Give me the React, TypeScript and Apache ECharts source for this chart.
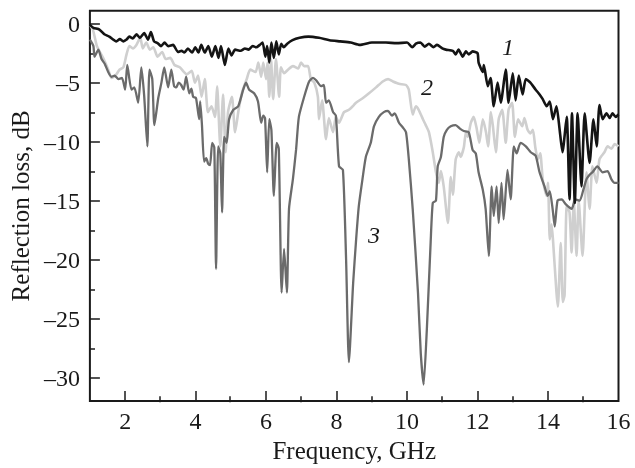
import React, { useEffect, useRef } from "react";
import * as echarts from "echarts";

// Sample 1 (black): [frequency GHz, reflection loss dB]
const curve1: [number, number][] = [
  [1.0, -0.1], [1.1, -0.35], [1.27, -0.5], [1.41, -0.9], [1.55, -1.1], [1.75, -1.5], [1.85, -1.3], [1.95, -1.5],
  [2.04, -1.35], [2.12, -1.1], [2.22, -1.25], [2.32, -0.9], [2.42, -1.2], [2.54, -0.8], [2.65, -1.35], [2.73, -0.7],
  [2.82, -1.5], [2.92, -1.65], [3.02, -1.9], [3.12, -1.6], [3.22, -1.9], [3.36, -1.8], [3.5, -2.4], [3.6, -2.3],
  [3.68, -2.45], [3.78, -2.1], [3.9, -2.45], [3.99, -2.0], [4.08, -2.45], [4.16, -1.8], [4.26, -2.45], [4.36, -1.9],
  [4.46, -2.8], [4.56, -1.9], [4.65, -2.9], [4.72, -1.9], [4.83, -3.5], [4.93, -2.1], [5.02, -2.7], [5.12, -2.2],
  [5.28, -2.3], [5.4, -2.1], [5.5, -2.2], [5.62, -1.9], [5.72, -2.0], [5.82, -1.8], [5.9, -1.6], [5.98, -2.8],
  [6.03, -1.9], [6.09, -3.3], [6.15, -1.6], [6.22, -2.9], [6.29, -1.5], [6.36, -2.6], [6.43, -1.7], [6.5, -2.0],
  [6.6, -1.7], [6.75, -1.4], [6.95, -1.2], [7.2, -1.1], [7.5, -1.2], [7.8, -1.4], [8.1, -1.5], [8.4, -1.6],
  [8.66, -1.8], [9.0, -1.6], [9.4, -1.6], [9.7, -1.65], [10.0, -1.6], [10.15, -2.0], [10.25, -1.7], [10.38, -1.6],
  [10.5, -1.95], [10.62, -1.7], [10.75, -2.0], [10.85, -1.8], [11.0, -2.1], [11.1, -2.2], [11.3, -2.3], [11.38, -2.6],
  [11.46, -2.2], [11.58, -2.8], [11.67, -2.35], [11.75, -2.6], [11.86, -2.35], [12.0, -2.5], [12.03, -3.3], [12.15, -4.1],
  [12.18, -3.5], [12.29, -5.3], [12.37, -4.6], [12.46, -7.0], [12.57, -5.0], [12.66, -6.7], [12.8, -3.9], [12.88, -6.7],
  [13.0, -4.2], [13.08, -6.5], [13.17, -4.4], [13.28, -6.0], [13.37, -4.7], [13.5, -5.0], [13.65, -5.6], [13.76, -6.0],
  [13.85, -6.4], [13.96, -7.0], [14.05, -6.6], [14.14, -8.1], [14.24, -7.0], [14.33, -9.0], [14.41, -10.9], [14.53, -7.9],
  [14.61, -14.9], [14.68, -7.6], [14.76, -15.2], [14.84, -7.6], [14.95, -13.8], [15.04, -7.6], [15.18, -11.8], [15.29, -8.1],
  [15.38, -10.4], [15.46, -6.9], [15.55, -8.1], [15.66, -7.6], [15.75, -8.0], [15.83, -7.6], [15.92, -7.9], [16.0, -7.7],
];

// Sample 2 (light grey)
const curve2: [number, number][] = [
  [1.0, -0.3], [1.05, -0.25], [1.2, -1.9], [1.39, -3.0], [1.52, -3.9], [1.61, -4.6], [1.75, -4.3], [1.84, -3.9],
  [1.95, -3.7], [2.04, -2.6], [2.12, -1.9], [2.22, -2.1], [2.32, -1.8], [2.43, -1.2], [2.5, -2.1], [2.6, -1.6],
  [2.7, -2.2], [2.8, -2.0], [2.92, -2.8], [3.05, -2.4], [3.15, -3.0], [3.28, -2.9], [3.4, -3.5], [3.55, -3.7],
  [3.75, -4.3], [3.89, -4.0], [3.98, -5.0], [4.07, -4.4], [4.17, -6.2], [4.26, -4.7], [4.35, -7.5], [4.45, -7.0],
  [4.55, -7.9], [4.61, -5.3], [4.7, -10.4], [4.78, -6.0], [4.85, -10.9], [4.92, -7.5], [5.03, -6.2], [5.12, -9.2],
  [5.22, -7.3], [5.32, -5.8], [5.45, -4.7], [5.55, -3.9], [5.7, -4.1], [5.78, -3.3], [5.86, -4.5], [5.92, -3.3],
  [6.0, -4.7], [6.04, -3.3], [6.09, -6.2], [6.14, -3.0], [6.2, -6.4], [6.28, -3.0], [6.37, -6.2], [6.42, -3.7],
  [6.51, -4.2], [6.62, -3.9], [6.76, -3.6], [6.91, -3.8], [6.99, -3.3], [7.08, -3.6], [7.19, -3.6], [7.27, -4.7],
  [7.37, -5.0], [7.47, -6.2], [7.5, -8.1], [7.59, -6.5], [7.7, -9.8], [7.78, -8.0], [7.9, -9.2], [7.98, -7.9],
  [8.07, -8.4], [8.21, -7.5], [8.35, -7.3], [8.49, -6.9], [8.55, -6.7], [8.75, -6.3], [8.92, -5.9], [9.12, -5.4],
  [9.31, -4.9], [9.46, -4.7], [9.6, -4.9], [9.77, -5.1], [9.97, -5.2], [10.05, -5.6], [10.16, -7.7], [10.25, -7.0],
  [10.33, -7.3], [10.45, -8.1], [10.53, -8.6], [10.62, -9.2], [10.73, -10.9], [10.82, -12.6], [10.9, -13.5], [10.96, -12.5],
  [11.04, -13.8], [11.16, -16.9], [11.24, -13.0], [11.3, -14.5], [11.38, -11.5], [11.47, -10.9], [11.52, -11.3], [11.61, -10.5],
  [11.67, -9.2], [11.72, -9.6], [11.81, -8.4], [11.89, -7.9], [11.97, -8.8], [12.05, -10.1], [12.15, -8.1], [12.24, -9.2],
  [12.3, -10.4], [12.38, -7.5], [12.44, -8.8], [12.52, -10.9], [12.6, -8.1], [12.7, -7.3], [12.8, -10.1], [12.88, -7.3],
  [12.98, -6.7], [13.06, -9.6], [13.15, -8.1], [13.27, -8.7], [13.33, -8.0], [13.42, -9.0], [13.5, -9.3], [13.57, -9.0],
  [13.64, -10.5], [13.71, -11.5], [13.78, -11.0], [13.85, -13.2], [13.96, -14.6], [14.0, -13.5], [14.05, -18.3], [14.1, -17.0],
  [14.14, -18.3], [14.24, -22.8], [14.28, -24.0], [14.36, -18.6], [14.42, -23.6], [14.47, -23.0], [14.53, -15.5], [14.61, -16.0],
  [14.67, -19.4], [14.73, -15.0], [14.81, -19.7], [14.87, -15.0], [14.98, -19.7], [15.09, -12.6], [15.18, -15.7], [15.26, -12.1],
  [15.38, -13.5], [15.46, -11.5], [15.6, -10.9], [15.69, -10.4], [15.8, -10.6], [15.89, -10.2], [16.0, -10.4],
];

// Sample 3 (dark grey)
const curve3: [number, number][] = [
  [1.0, -1.35], [1.1, -1.9], [1.13, -2.8], [1.24, -2.2], [1.33, -3.0], [1.42, -3.4], [1.52, -4.1], [1.61, -4.5],
  [1.7, -4.4], [1.81, -4.7], [1.91, -4.6], [2.0, -5.6], [2.06, -3.5], [2.18, -5.6], [2.26, -5.4], [2.37, -6.7],
  [2.46, -3.7], [2.54, -6.1], [2.63, -10.4], [2.69, -3.9], [2.77, -4.7], [2.83, -8.6], [2.94, -6.3], [3.03, -5.0],
  [3.11, -3.7], [3.22, -5.4], [3.31, -3.9], [3.39, -5.3], [3.45, -5.4], [3.52, -5.0], [3.59, -5.2], [3.66, -5.6],
  [3.73, -4.5], [3.82, -5.9], [3.88, -5.5], [3.93, -6.2], [4.01, -6.3], [4.1, -8.1], [4.13, -6.6], [4.18, -8.6],
  [4.24, -11.7], [4.3, -11.4], [4.36, -11.9], [4.41, -12.0], [4.47, -10.1], [4.53, -10.5], [4.58, -20.8], [4.64, -10.4],
  [4.7, -11.0], [4.75, -16.0], [4.81, -9.6], [4.88, -10.1], [4.95, -8.1], [5.07, -7.3], [5.21, -7.0], [5.35, -5.6],
  [5.43, -5.0], [5.52, -5.6], [5.66, -5.9], [5.77, -6.6], [5.86, -8.4], [5.92, -7.8], [5.97, -8.0], [6.03, -12.6],
  [6.09, -8.1], [6.15, -9.0], [6.22, -14.6], [6.3, -10.1], [6.36, -10.6], [6.44, -22.8], [6.51, -19.1], [6.59, -22.8],
  [6.65, -15.7], [6.76, -13.2], [6.85, -10.7], [6.93, -7.9], [7.08, -6.2], [7.22, -4.9], [7.33, -4.6], [7.42, -4.8],
  [7.56, -5.3], [7.64, -5.2], [7.7, -6.7], [7.78, -6.5], [7.9, -7.5], [7.98, -7.8], [8.07, -12.1], [8.18, -12.4],
  [8.27, -20.0], [8.35, -28.7], [8.47, -22.0], [8.55, -18.5], [8.63, -15.5], [8.72, -13.5], [8.83, -11.3], [8.97, -10.1],
  [9.06, -8.7], [9.2, -7.9], [9.34, -7.5], [9.46, -7.4], [9.57, -7.8], [9.65, -7.6], [9.77, -8.4], [9.88, -8.8],
  [9.97, -9.2], [10.05, -11.5], [10.16, -15.7], [10.31, -22.8], [10.39, -28.0], [10.47, -30.6], [10.56, -26.0], [10.67, -18.5],
  [10.73, -15.2], [10.82, -15.0], [10.87, -12.1], [10.96, -11.3], [11.04, -9.6], [11.13, -9.0], [11.24, -8.7], [11.38, -8.6],
  [11.5, -8.9], [11.61, -9.1], [11.75, -9.2], [11.86, -10.7], [11.95, -11.0], [12.03, -12.6], [12.15, -14.1], [12.23, -15.7],
  [12.32, -19.7], [12.4, -13.8], [12.46, -16.3], [12.54, -13.8], [12.6, -16.9], [12.68, -13.5], [12.74, -16.6], [12.85, -12.4],
  [12.94, -14.9], [13.03, -10.4], [13.11, -11.0], [13.22, -10.1], [13.37, -10.4], [13.51, -10.9], [13.65, -11.2], [13.76, -12.6],
  [13.9, -13.8], [13.99, -14.6], [14.05, -14.2], [14.13, -15.7], [14.19, -17.2], [14.27, -15.0], [14.39, -14.9], [14.5, -15.3],
  [14.67, -15.7], [14.78, -14.9], [14.9, -15.0], [15.01, -14.0], [15.09, -13.2], [15.18, -12.8], [15.26, -12.6], [15.4, -12.1],
  [15.55, -12.6], [15.69, -12.5], [15.8, -13.2], [15.89, -13.5], [16.0, -13.5],
];

const xMajorTicks = [2, 4, 6, 8, 10, 12, 14];
const xTickLabels = [2, 4, 6, 8, 10, 12, 14, 16];
const xMinorTicks = [3, 5, 7, 9, 11, 13, 15];
const yMajorTicks = [-30, -25, -20, -15, -10, -5, 0];
const yMinorTicks = [-27.5, -22.5, -17.5, -12.5, -7.5, -2.5];
const curveLabels = ["1", "2", "3"];

const FONT = '"Liberation Serif", "Times New Roman", serif';
const INK = "#1a1a1a";

export default function App() {
  const ref = useRef<HTMLDivElement>(null);

  useEffect(() => {
    if (!ref.current) return;
    const chart = echarts.init(ref.current, null, { renderer: "svg" });
    const tickLine = { color: INK, width: 1.5 };
    const gridBox = { left: 89, right: 16.5, top: 10.7, bottom: 65.7 };
    const baseX = {
      type: "value",
      min: 1,
      max: 16,
      position: "bottom",
      axisLine: { show: false, onZero: false },
      splitLine: { show: false },
    };
    const baseY = {
      type: "value",
      min: -32,
      max: 1.1,
      position: "left",
      axisLine: { show: false, onZero: false },
      splitLine: { show: false },
    };
    const labelStyle = { fontFamily: FONT, fontSize: 24, color: INK };
    chart.setOption({
      animation: false,
      grid: [
        {
          ...gridBox,
          show: true,
          borderColor: INK,
          borderWidth: 2,
          backgroundColor: "transparent",
        },
        { ...gridBox, show: false },
      ],
      xAxis: [
        {
          ...baseX,
          gridIndex: 0,
          name: "Frequency, GHz",
          nameLocation: "middle",
          nameGap: 32,
          nameTextStyle: { fontFamily: FONT, fontSize: 25, color: INK },
          axisTick: { show: true, inside: true, length: 10, customValues: xMajorTicks, lineStyle: tickLine },
          axisLabel: { show: true, customValues: xTickLabels, margin: 8, ...labelStyle },
        },
        {
          ...baseX,
          gridIndex: 1,
          axisTick: { show: true, inside: true, length: 6, customValues: xMinorTicks, lineStyle: tickLine },
          axisLabel: { show: false },
        },
      ],
      yAxis: [
        {
          ...baseY,
          gridIndex: 0,
          name: "Reflection loss, dB",
          nameLocation: "middle",
          nameRotate: 90,
          nameGap: 55,
          nameTextStyle: { fontFamily: FONT, fontSize: 25, color: INK },
          axisTick: { show: true, inside: true, length: 10, customValues: yMajorTicks, lineStyle: tickLine },
          axisLabel: {
            show: true,
            customValues: yMajorTicks,
            margin: 10,
            ...labelStyle,
            formatter: (v: number) => (v < 0 ? "\u2013" + Math.abs(v) : String(v)),
          },
        },
        {
          ...baseY,
          gridIndex: 1,
          axisTick: { show: true, inside: true, length: 6, customValues: yMinorTicks, lineStyle: tickLine },
          axisLabel: { show: false },
        },
      ],
      graphic: [
        { type: "text", x: 508, y: 47, style: { text: curveLabels[0], font: `italic 24px ${FONT}`, fill: INK, align: "center", verticalAlign: "middle" } },
        { type: "text", x: 427, y: 87, style: { text: curveLabels[1], font: `italic 24px ${FONT}`, fill: INK, align: "center", verticalAlign: "middle" } },
        { type: "text", x: 374, y: 235, style: { text: curveLabels[2], font: `italic 24px ${FONT}`, fill: INK, align: "center", verticalAlign: "middle" } },
      ],
      series: [
        {
          type: "line",
          xAxisIndex: 0,
          yAxisIndex: 0,
          data: curve2,
          showSymbol: false,
          smooth: 0.2,
          lineStyle: { color: "#cfcfcf", width: 2.6 },
          z: 2,
        },
        {
          type: "line",
          xAxisIndex: 0,
          yAxisIndex: 0,
          data: curve3,
          showSymbol: false,
          smooth: 0.2,
          lineStyle: { color: "#6b6b6b", width: 2.3 },
          z: 3,
        },
        {
          type: "line",
          xAxisIndex: 0,
          yAxisIndex: 0,
          data: curve1,
          showSymbol: false,
          smooth: 0.2,
          lineStyle: { color: "#141414", width: 2.6 },
          z: 4,
        },
      ],
    });
    return () => chart.dispose();
  }, []);

  return <div ref={ref} style={{ position: "fixed", left: 0, top: 0, width: 635, height: 468 }} />;
}
